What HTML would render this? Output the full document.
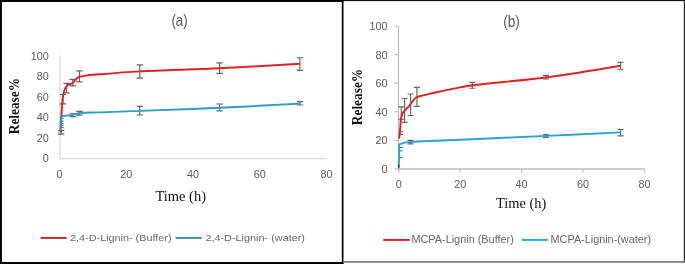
<!DOCTYPE html>
<html><head><meta charset="utf-8"><title>Release charts</title>
<style>
html,body{margin:0;padding:0;background:#fff;}
body{width:685px;height:264px;overflow:hidden;}
svg{display:block;}
text{filter:grayscale(1);}
.tk{font-family:"Liberation Sans",sans-serif;font-size:10.8px;fill:#595959;}
.ttl{font-family:"Liberation Sans",sans-serif;font-size:16.5px;fill:#595959;}
.lg{font-family:"Liberation Sans",sans-serif;font-size:9.6px;fill:#666;}
.lg2{font-family:"Liberation Sans",sans-serif;font-size:10.1px;fill:#666;}
.axt{font-family:"Liberation Serif",serif;font-size:15px;fill:#111;}
.ayt{font-family:"Liberation Serif",serif;font-size:15px;font-weight:bold;fill:#111;}
</style></head>
<body>
<svg width="685" height="264" viewBox="0 0 685 264">
<rect width="685" height="264" fill="#fff"/>
<path d="M60.0,55.6V158.7H326.6" stroke="#d9d9d9" stroke-width="1.3" fill="none"/>
<text x="48.7" y="162.30" class="tk" text-anchor="end">0</text>
<text x="48.7" y="141.74" class="tk" text-anchor="end">20</text>
<text x="48.7" y="121.18" class="tk" text-anchor="end">40</text>
<text x="48.7" y="100.62" class="tk" text-anchor="end">60</text>
<text x="48.7" y="80.06" class="tk" text-anchor="end">80</text>
<text x="48.7" y="59.50" class="tk" text-anchor="end">100</text>
<text x="59.40" y="178.1" class="tk" text-anchor="middle">0</text>
<text x="126.15" y="178.1" class="tk" text-anchor="middle">20</text>
<text x="192.90" y="178.1" class="tk" text-anchor="middle">40</text>
<text x="259.65" y="178.1" class="tk" text-anchor="middle">60</text>
<text x="326.40" y="178.1" class="tk" text-anchor="middle">80</text>
<path d="M62.90,94.50V103.80M59.70,94.50H66.10M59.70,103.80H66.10" stroke="#666666" stroke-width="1.15" fill="none"/>
<path d="M66.60,83.30V92.90M63.40,83.30H69.80M63.40,92.90H69.80" stroke="#666666" stroke-width="1.15" fill="none"/>
<path d="M72.75,79.40V85.80M69.55,79.40H75.95M69.55,85.80H75.95" stroke="#666666" stroke-width="1.15" fill="none"/>
<path d="M79.40,70.90V81.90M76.20,70.90H82.60M76.20,81.90H82.60" stroke="#666666" stroke-width="1.15" fill="none"/>
<path d="M139.80,64.80V78.10M136.60,64.80H143.00M136.60,78.10H143.00" stroke="#666666" stroke-width="1.15" fill="none"/>
<path d="M219.60,62.90V73.40M216.40,62.90H222.80M216.40,73.40H222.80" stroke="#666666" stroke-width="1.15" fill="none"/>
<path d="M299.90,57.70V70.40M296.70,57.70H303.10M296.70,70.40H303.10" stroke="#666666" stroke-width="1.15" fill="none"/>
<path d="M139.80,106.30V115.00M136.60,106.30H143.00M136.60,115.00H143.00" stroke="#666666" stroke-width="1.15" fill="none"/>
<path d="M219.60,104.00V110.80M216.40,104.00H222.80M216.40,110.80H222.80" stroke="#666666" stroke-width="1.15" fill="none"/>
<path d="M299.90,101.60V105.00M296.70,101.60H303.10M296.70,105.00H303.10" stroke="#666666" stroke-width="1.15" fill="none"/>
<path d="M79.40,111.40V115.10M76.20,111.40H82.60M76.20,115.10H82.60" stroke="#666666" stroke-width="1.15" fill="none"/>
<path d="M72.75,113.70V116.60M69.55,113.70H75.95M69.55,116.60H75.95" stroke="#666666" stroke-width="1.15" fill="none"/>
<path d="M61.20,130.60V134.10M58.00,130.60H64.40M58.00,134.10H64.40" stroke="#666666" stroke-width="1.15" fill="none"/>
<path d="M60.2,118.2H63.6" stroke="#595959" stroke-width="1.1"/>
<path d="M60.2,121.2H63.6" stroke="#595959" stroke-width="1.1"/>
<path d="M60.2,123.5H63.6" stroke="#595959" stroke-width="1.1"/>
<path d="M60.2,125.5H63.6" stroke="#595959" stroke-width="1.1"/>
<path d="M60.2,127.6H63.6" stroke="#595959" stroke-width="1.1"/>
<path d="M60.40,132.40 C60.40,132.40 60.72,126.89 60.90,124.00 C61.09,120.93 61.29,117.78 61.50,114.50 C61.72,110.97 61.89,106.92 62.20,103.50 C62.47,100.51 62.68,97.69 63.20,95.10 C63.66,92.80 64.13,90.46 65.00,88.70 C65.72,87.25 66.53,86.01 67.70,85.10 C68.93,84.14 71.04,84.04 72.30,83.20 C73.41,82.46 74.11,81.42 75.00,80.50 C75.91,79.56 76.70,78.25 77.70,77.60 C78.56,77.03 79.40,76.90 80.50,76.60 C82.01,76.20 83.74,75.91 86.00,75.60 C89.59,75.11 94.14,74.79 100.00,74.30 C109.88,73.48 124.24,72.27 139.80,71.40 C161.81,70.17 192.96,69.56 219.60,68.30 C246.33,67.03 299.90,63.80 299.90,63.80" stroke="#dc2526" stroke-width="1.95" fill="none" stroke-linejoin="round"/>
<path d="M60.50,131.00 C60.50,131.00 60.63,126.28 60.70,124.00 C60.77,121.82 60.60,118.94 60.90,117.60 C61.05,116.95 61.14,116.49 61.50,116.20 C61.88,115.90 62.56,115.99 63.20,115.90 C64.04,115.78 64.94,115.72 66.10,115.60 C67.86,115.42 70.55,115.30 72.75,114.90 C74.98,114.50 76.54,113.62 79.40,113.20 C84.35,112.47 92.01,112.66 100.00,112.35 C111.10,111.92 124.25,111.49 139.80,110.90 C161.82,110.07 192.96,109.01 219.60,107.80 C246.33,106.58 299.90,103.60 299.90,103.60" stroke="#2e9cc9" stroke-width="1.95" fill="none" stroke-linejoin="round"/>
<text x="179.6" y="26.0" class="ttl" text-anchor="middle" textLength="16.4" lengthAdjust="spacingAndGlyphs">(a)</text>
<text x="180.7" y="200.9" class="axt" text-anchor="middle" textLength="50.6" lengthAdjust="spacingAndGlyphs">Time (h)</text>
<text transform="translate(18.9,106.1) rotate(-90)" x="0" y="0" class="ayt" text-anchor="middle" textLength="56.3" lengthAdjust="spacingAndGlyphs">Release%</text>
<path d="M40.5,237.9H66.6" stroke="#b0302f" stroke-width="2"/>
<text x="70.1" y="240.6" class="lg" textLength="101.4" lengthAdjust="spacingAndGlyphs">2,4-D-Lignin- (Buffer)</text>
<path d="M175.6,237.9H201.8" stroke="#3a91ab" stroke-width="2"/>
<text x="205.4" y="240.6" class="lg" textLength="99.6" lengthAdjust="spacingAndGlyphs">2,4-D-Lignin- (water)</text>
<path d="M398.5,26.2V169H644.6" stroke="#bfbfbf" stroke-width="1.3" fill="none"/>
<path d="M394.6,168.90H398.5" stroke="#bfbfbf" stroke-width="1.2"/>
<text x="387.5" y="172.90" class="tk" text-anchor="end">0</text>
<path d="M394.6,140.36H398.5" stroke="#bfbfbf" stroke-width="1.2"/>
<text x="387.5" y="144.36" class="tk" text-anchor="end">20</text>
<path d="M394.6,111.82H398.5" stroke="#bfbfbf" stroke-width="1.2"/>
<text x="387.5" y="115.82" class="tk" text-anchor="end">40</text>
<path d="M394.6,83.28H398.5" stroke="#bfbfbf" stroke-width="1.2"/>
<text x="387.5" y="87.28" class="tk" text-anchor="end">60</text>
<path d="M394.6,54.74H398.5" stroke="#bfbfbf" stroke-width="1.2"/>
<text x="387.5" y="58.74" class="tk" text-anchor="end">80</text>
<path d="M394.6,26.20H398.5" stroke="#bfbfbf" stroke-width="1.2"/>
<text x="387.5" y="30.20" class="tk" text-anchor="end">100</text>
<path d="M398.80,169V172.4" stroke="#bfbfbf" stroke-width="1.2"/>
<text x="398.80" y="187.6" class="tk" text-anchor="middle">0</text>
<path d="M460.20,169V172.4" stroke="#bfbfbf" stroke-width="1.2"/>
<text x="460.20" y="187.6" class="tk" text-anchor="middle">20</text>
<path d="M521.60,169V172.4" stroke="#bfbfbf" stroke-width="1.2"/>
<text x="521.60" y="187.6" class="tk" text-anchor="middle">40</text>
<path d="M583.00,169V172.4" stroke="#bfbfbf" stroke-width="1.2"/>
<text x="583.00" y="187.6" class="tk" text-anchor="middle">60</text>
<path d="M644.40,169V172.4" stroke="#bfbfbf" stroke-width="1.2"/>
<text x="644.40" y="187.6" class="tk" text-anchor="middle">80</text>
<path d="M401.30,106.90V119.20M398.30,106.90H404.30M398.30,119.20H404.30" stroke="#666666" stroke-width="1.15" fill="none"/>
<path d="M404.60,98.50V122.30M401.60,98.50H407.60M401.60,122.30H407.60" stroke="#666666" stroke-width="1.15" fill="none"/>
<path d="M410.60,94.00V115.50M407.60,94.00H413.60M407.60,115.50H413.60" stroke="#666666" stroke-width="1.15" fill="none"/>
<path d="M416.90,87.40V106.40M413.90,87.40H419.90M413.90,106.40H419.90" stroke="#666666" stroke-width="1.15" fill="none"/>
<path d="M472.30,82.30V88.20M469.30,82.30H475.30M469.30,88.20H475.30" stroke="#666666" stroke-width="1.15" fill="none"/>
<path d="M545.90,75.30V79.00M542.90,75.30H548.90M542.90,79.00H548.90" stroke="#666666" stroke-width="1.15" fill="none"/>
<path d="M620.50,62.40V69.20M617.50,62.40H623.50M617.50,69.20H623.50" stroke="#666666" stroke-width="1.15" fill="none"/>
<path d="M410.40,140.30V143.90M407.40,140.30H413.40M407.40,143.90H413.40" stroke="#666666" stroke-width="1.15" fill="none"/>
<path d="M545.90,134.50V137.30M542.90,134.50H548.90M542.90,137.30H548.90" stroke="#666666" stroke-width="1.15" fill="none"/>
<path d="M620.50,129.50V135.80M617.50,129.50H623.50M617.50,135.80H623.50" stroke="#666666" stroke-width="1.15" fill="none"/>
<path d="M399,131.8H403" stroke="#595959" stroke-width="1.1"/>
<path d="M399,134.4H403" stroke="#595959" stroke-width="1.1"/>
<path d="M398.8,147.5H402.4" stroke="#595959" stroke-width="1.1"/>
<path d="M398.8,150.8H402.4" stroke="#595959" stroke-width="1.1"/>
<path d="M398.8,157.6H402.4" stroke="#595959" stroke-width="1.1"/>
<path d="M399.10,138.60 C399.10,138.60 399.89,131.77 400.20,128.50 C400.49,125.42 400.49,122.12 400.90,119.50 C401.22,117.43 401.47,115.59 402.20,114.00 C402.86,112.57 403.83,111.57 404.90,110.30 C406.19,108.78 408.22,107.13 409.50,105.60 C410.58,104.31 411.20,103.05 412.20,101.80 C413.28,100.45 414.28,98.82 415.80,97.80 C417.48,96.68 419.62,96.30 422.00,95.60 C425.12,94.68 428.70,93.96 433.00,93.00 C439.07,91.65 448.10,89.74 455.00,88.40 C461.10,87.22 464.51,86.41 472.30,85.30 C488.29,83.02 521.32,80.73 545.90,77.50 C570.72,74.24 620.50,65.80 620.50,65.80" stroke="#e2221d" stroke-width="1.95" fill="none" stroke-linejoin="round"/>
<path d="M398.70,166.60 C398.70,166.60 399.07,158.80 399.20,155.00 C399.33,151.34 398.38,145.52 399.50,144.20 C400.00,143.61 400.84,144.02 401.60,143.80 C402.54,143.53 403.48,142.89 404.70,142.60 C406.33,142.21 408.60,142.18 410.60,142.00 C412.66,141.81 413.76,141.69 416.90,141.50 C426.21,140.94 452.52,140.05 472.30,139.20 C495.09,138.22 521.28,137.03 545.90,135.90 C570.68,134.76 620.50,132.40 620.50,132.40" stroke="#2aa3d3" stroke-width="1.95" fill="none" stroke-linejoin="round"/>
<path d="M398.75,164.8V168.2" stroke="#4a4a4a" stroke-width="1.6"/>
<text x="511.5" y="26.7" class="ttl" text-anchor="middle" textLength="16.6" lengthAdjust="spacingAndGlyphs">(b)</text>
<text x="521.2" y="207.5" class="axt" text-anchor="middle" textLength="50.2" lengthAdjust="spacingAndGlyphs">Time (h)</text>
<text transform="translate(362.0,97.0) rotate(-90)" x="0" y="0" class="ayt" text-anchor="middle" textLength="56.3" lengthAdjust="spacingAndGlyphs">Release%</text>
<path d="M383.2,239.9H409.6" stroke="#e02020" stroke-width="2"/>
<text x="411.4" y="242.8" class="lg2" textLength="102.4" lengthAdjust="spacingAndGlyphs">MCPA-Lignin (Buffer)</text>
<path d="M521.5,239.9H547.8" stroke="#2aa8df" stroke-width="2"/>
<text x="550.6" y="242.8" class="lg2" textLength="100.4" lengthAdjust="spacingAndGlyphs">MCPA-Lignin-(water)</text>
<rect x="0" y="0" width="343.4" height="2" fill="#000"/>
<rect x="0" y="0" width="1.9" height="264" fill="#000"/>
<rect x="0" y="262" width="343.4" height="2" fill="#000"/>
<rect x="341.8" y="0" width="1.7" height="264" fill="#000"/>
<rect x="343" y="0" width="342" height="1.1" fill="#111"/>
<rect x="683.8" y="0" width="1.2" height="263" fill="#2a2a2a"/>
<rect x="343" y="261" width="342" height="1.8" fill="#808080"/>
</svg>
</body></html>
